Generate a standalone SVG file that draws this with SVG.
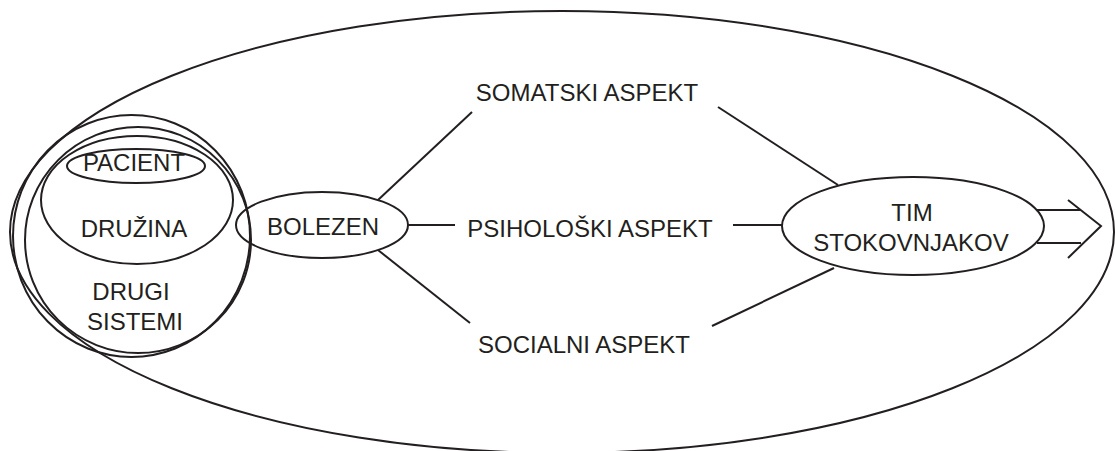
<svg xmlns="http://www.w3.org/2000/svg" width="1115" height="451" viewBox="0 0 1115 451">
  <style>
    .ln { fill: none; stroke: #231f20; stroke-width: 2; }
    .lbl { font-family: "Liberation Sans", Arial, Helvetica, sans-serif; font-size: 24px; fill: #231f20; text-anchor: middle; }
  </style>
  <rect width="1115" height="451" fill="#ffffff"/>

  <!-- outer frame: the whole care system -->
  <g id="frame">
    <ellipse class="ln" cx="562" cy="232" rx="552" ry="221"/>
  </g>

  <!-- nested systems around the patient -->
  <g id="drugi-sistemi">
    <ellipse class="ln" cx="131.5" cy="236" rx="118.5" ry="121"/>
    <ellipse class="ln" cx="138" cy="240" rx="113" ry="113"/>
    <text class="lbl" x="131" y="300">DRUGI</text>
    <text class="lbl" x="135" y="330">SISTEMI</text>
  </g>
  <g id="druzina">
    <ellipse class="ln" cx="137" cy="200" rx="96" ry="64"/>
    <text class="lbl" x="134" y="237">DRUŽINA</text>
  </g>
  <g id="pacient">
    <ellipse class="ln" cx="136" cy="166" rx="69" ry="17"/>
    <text class="lbl" x="134" y="171">PACIENT</text>
  </g>

  <g id="bolezen">
    <ellipse class="ln" cx="322" cy="225" rx="86" ry="33"/>
    <text class="lbl" x="323" y="235">BOLEZEN</text>
  </g>

  <g id="somatski">
    <text class="lbl" x="587" y="101">SOMATSKI ASPEKT</text>
  </g>
  <g id="psiholoski">
    <text class="lbl" x="590" y="237">PSIHOLOŠKI ASPEKT</text>
  </g>
  <g id="socialni">
    <text class="lbl" x="584" y="353">SOCIALNI ASPEKT</text>
  </g>

  <g id="tim">
    <ellipse class="ln" cx="913" cy="226" rx="131" ry="49"/>
    <text class="lbl" x="912" y="221">TIM</text>
    <text class="lbl" x="911" y="251">STOKOVNJAKOV</text>
  </g>

  <!-- connectors -->
  <g id="connectors">
    <line class="ln" x1="378" y1="200" x2="472" y2="112"/>
    <line class="ln" x1="408" y1="225" x2="455" y2="225"/>
    <line class="ln" x1="378" y1="250" x2="470" y2="323"/>
    <line class="ln" x1="718" y1="107" x2="838" y2="185"/>
    <line class="ln" x1="733" y1="225" x2="782" y2="225"/>
    <line class="ln" x1="712" y1="326" x2="834" y2="268"/>
    <!-- outgoing open arrow -->
    <line class="ln" x1="1037" y1="210" x2="1081" y2="210"/>
    <line class="ln" x1="1037" y1="243" x2="1081" y2="243"/>
    <polyline class="ln" points="1068,200 1101,226 1068,258"/>
  </g>
</svg>
